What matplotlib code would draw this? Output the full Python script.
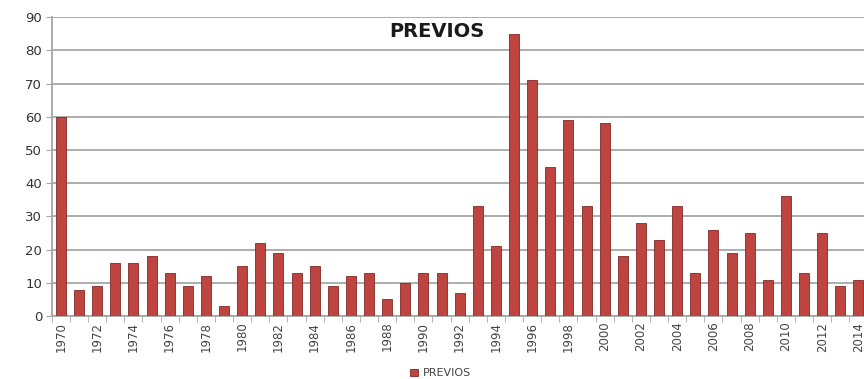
import numpy as np
import matplotlib.pyplot as plt

years = list(range(1970, 2015))
previos = [60, 8, 9, 16, 16, 18, 13, 9, 12, 3,
           15, 22, 19, 13, 15, 9, 12, 13, 5, 10,
           13, 13, 7, 33, 21, 85, 71, 45, 59, 33,
           58, 18, 28, 23, 33, 13, 26, 19, 25, 11,
           36, 13, 25, 9, 11]
y_ticks = list(range(0, 100, 10))

fig = plt.figure(figsize=(8.64, 3.79), dpi=100)
ax = fig.add_axes([0.060, 0.166, 0.944, 0.789])

x = np.arange(len(years))
bars = ax.bar(x, previos, width=0.55, color='#BE4440', edgecolor='#7F2A27',
              linewidth=0.6, label='PREVIOS', zorder=3)

ax.set_xlim(-0.5, len(years) - 0.5)
ax.set_ylim(0, 90)
ax.set_yticks(y_ticks)
ax.yaxis.grid(True, color='#A6A6A6', linewidth=1.3, zorder=0)
ax.tick_params(axis='y', length=4, color='#A6A6A6', labelsize=9.5,
               labelcolor='#333333', pad=3)

ax.set_xticks(x[::2])
ax.set_xticklabels([str(y) for y in years[::2]], rotation=90, fontsize=8.5,
                   color='#444444')
ax.tick_params(axis='x', length=0, pad=4)
ax.set_xticks(np.arange(-0.5, len(years), 1), minor=True)
ax.tick_params(axis='x', which='minor', length=4, color='#A6A6A6')

for s in ['top', 'right']:
    ax.spines[s].set_visible(False)
ax.spines['left'].set_color('#A6A6A6')
ax.spines['left'].set_linewidth(1.3)
ax.spines['bottom'].set_color('#A6A6A6')
ax.spines['bottom'].set_linewidth(1.3)

fig.text(0.506, 0.918, 'PREVIOS', ha='center', va='center',
         fontsize=14, fontweight='bold', color='#1a1a1a')

fig.legend(handles=[bars], labels=['PREVIOS'], loc='lower center',
           bbox_to_anchor=(0.51, -0.025), frameon=False, fontsize=8,
           handlelength=0.7, handleheight=0.7, handletextpad=0.4,
           labelcolor='#444444')

fig.savefig('out.png', dpi=100)
